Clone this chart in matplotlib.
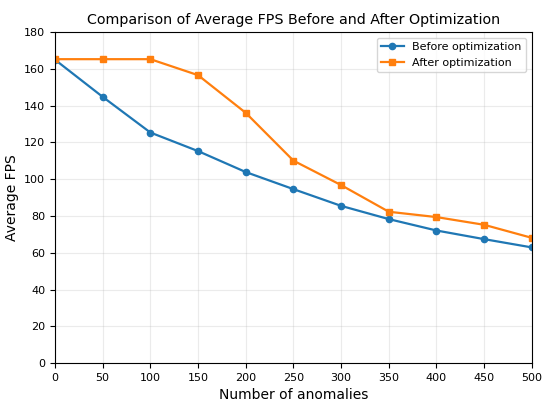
"""Average FPS before and after optimization."""

import matplotlib
matplotlib.use("Agg")
import matplotlib.pyplot as plt

anomalies = [0, 50, 100, 150, 200, 250, 300, 350, 400, 450, 500]
fps_before = [165, 144.8, 125.4, 115.3, 103.9, 94.6, 85.5, 78.3, 72.1, 67.4, 62.9]
fps_after = [165.3, 165.3, 165.3, 156.6, 136.1, 110.1, 96.8, 82.3, 79.4, 75.2, 68.1]


def main():
    fig = plt.figure(figsize=(5.5, 4.07), dpi=100)
    ax = fig.add_axes([0.1, 0.108, 0.867, 0.813])

    ax.plot(anomalies, fps_before, color="#1f77b4", marker="o", markersize=4.5,
            linewidth=1.6, label="Before optimization")
    ax.plot(anomalies, fps_after, color="#ff7f0e", marker="s", markersize=4.5,
            linewidth=1.6, label="After optimization")

    ax.set_xlim(0, 500)
    ax.set_ylim(0, 180)
    ax.set_xticks(range(0, 501, 50))
    ax.set_yticks(range(0, 181, 20))
    ax.tick_params(labelsize=8)
    ax.grid(True, alpha=0.25)

    ax.set_xlabel("Number of anomalies", fontsize=10)
    ax.set_ylabel("Average FPS", fontsize=10)
    ax.set_title("Comparison of Average FPS Before and After Optimization", fontsize=10.3)
    ax.legend(loc="upper right", fontsize=8)

    fig.savefig("out.png", dpi=100)


if __name__ == "__main__":
    main()
